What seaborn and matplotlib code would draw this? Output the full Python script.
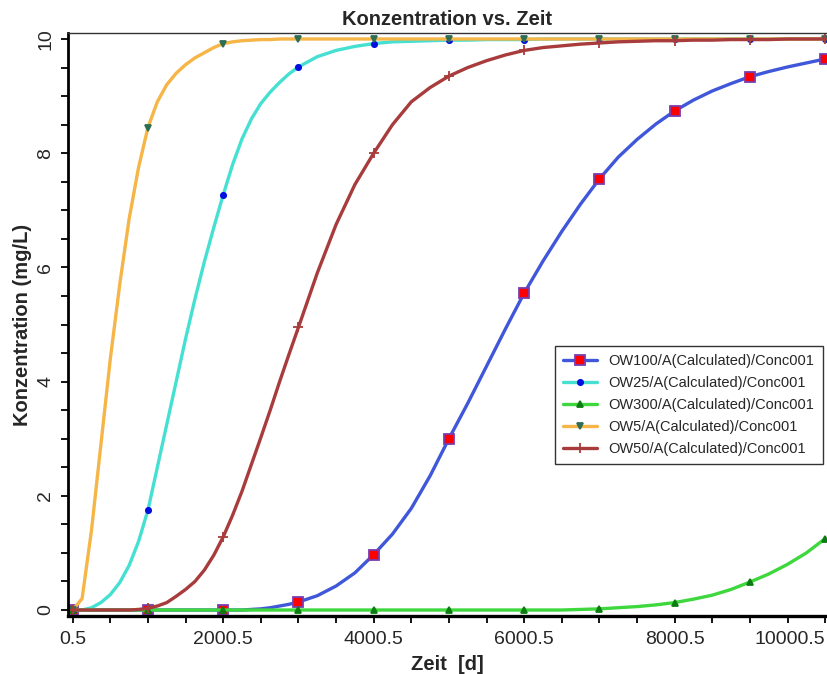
import numpy as np
import pandas as pd
import seaborn as sns
import matplotlib.pyplot as plt
from matplotlib.ticker import FixedLocator, MultipleLocator

# time grid [d]: 125 d steps up to 3000.5, 250 d steps afterwards
zeit = np.concatenate([np.arange(0.5, 3000.6, 125), np.arange(3250.5, 10000.6, 250)])

ow100 = [0, 0, 0, 0, 0, 0, 0, 0, 0, 0, 0, 0, 0, 0, 0, 0, 0, 0, 0,
         0.01, 0.02, 0.04, 0.07, 0.10, 0.14,
         0.25, 0.42, 0.65, 0.97, 1.33, 1.78, 2.35, 3.00, 3.62, 4.27, 4.92, 5.55,
         6.11, 6.63, 7.11, 7.55, 7.93, 8.24, 8.51, 8.74, 8.93, 9.09, 9.22, 9.34,
         9.43, 9.51, 9.58, 9.65]
ow25 = [0, 0.0, 0.04, 0.13, 0.27, 0.48, 0.78, 1.2, 1.75, 2.50, 3.25, 4.0, 4.75,
        5.45, 6.10, 6.70, 7.27, 7.80, 8.25, 8.60, 8.87, 9.07, 9.24, 9.39, 9.51,
        9.69, 9.80, 9.87, 9.92, 9.95, 9.96, 9.97, 9.98, 9.98, 9.99, 9.99, 9.99,
        10, 10, 10, 10, 10, 10, 10, 10, 10, 10, 10, 10, 10, 10, 10, 10]
ow300 = [0] * 38 + [0.0, 0.01, 0.02, 0.04, 0.06, 0.09, 0.13, 0.19, 0.26, 0.36,
                    0.49, 0.63, 0.80, 1.00, 1.25]
ow5 = [0, 0.2, 1.4, 2.9, 4.4, 5.7, 6.85, 7.75, 8.45, 8.90, 9.20, 9.40, 9.55,
       9.67, 9.76, 9.85, 9.92, 9.95, 9.97, 9.98, 9.99, 9.99, 10, 10, 10] + [10] * 28
ow50 = [0, 0, 0, 0, 0, 0, 0, 0.01, 0.03, 0.07, 0.13, 0.24, 0.36, 0.50, 0.70,
        0.96, 1.28, 1.66, 2.08, 2.55, 3.02, 3.50, 4.00, 4.48, 4.95,
        5.90, 6.75, 7.45, 8.00, 8.50, 8.90, 9.15, 9.35, 9.50, 9.62, 9.72, 9.80,
        9.85, 9.88, 9.91, 9.93, 9.95, 9.96, 9.97, 9.97, 9.98, 9.98, 9.99, 9.99,
        9.99, 10, 10, 10]

series = [
    ("OW100/A(Calculated)/Conc001", ow100, "#3f57d8", "s", "#ff0000", "#7a3db0", 6.5),
    ("OW25/A(Calculated)/Conc001", ow25, "#45e0d2", "o", "#0010e0", "#0010e0", 3.8),
    ("OW300/A(Calculated)/Conc001", ow300, "#3ed83e", "^", "#0b7d10", "#0b7d10", 5),
    ("OW5/A(Calculated)/Conc001", ow5, "#f5b547", "v", "#2e6e55", "#2e6e55", 5),
    ("OW50/A(Calculated)/Conc001", ow50, "#a83c3c", "+", "#a83c3c", "#a83c3c", 6.5),
]

sns.set_style("white")
plt.rcParams["font.family"] = ["Liberation Sans", "DejaVu Sans"]

fig = plt.figure(figsize=(8.27, 6.74), dpi=100)
ax = fig.add_axes([68 / 827, 1 - 616 / 674, (826 - 68) / 827, (616 - 33) / 674])

marks = [i for i, t in enumerate(zeit) if (t - 0.5) % 1000 == 0]
for name, vals, col, mk, mfc, mec, ms in series:
    df = pd.DataFrame({"Zeit": zeit, "Konz": vals})
    sns.lineplot(data=df, x="Zeit", y="Konz", ax=ax, color=col, linewidth=2.4,
                 marker=mk, markersize=ms, markerfacecolor=mfc, markeredgecolor=mec,
                 markeredgewidth=1.3, markevery=marks, errorbar=None, label=name)

ax.set_xlim(-62, 10012)
ax.set_ylim(-0.105, 10.105)
ax.xaxis.set_major_locator(FixedLocator([0.5, 2000.5, 4000.5, 6000.5, 8000.5, 10000.5]))
ax.xaxis.set_minor_locator(FixedLocator(np.arange(0.5, 10001, 500)))
ax.set_xticklabels(["0.5", "2000.5", "4000.5", "6000.5", "8000.5", "10000.5"])
ax.get_xticklabels()[-1].set_ha("right")
ax.yaxis.set_major_locator(MultipleLocator(2))
ax.yaxis.set_minor_locator(MultipleLocator(0.5))
ax.tick_params(axis="both", which="both", direction="out", length=5, width=1.3,
               color="black", labelsize=14, bottom=True, left=True)
ax.tick_params(axis="x", pad=6)
ax.tick_params(axis="y", pad=5)
for lab in ax.get_yticklabels():
    lab.set_rotation(90)
    lab.set_va("center")

ax.spines["left"].set_linewidth(2)
ax.spines["bottom"].set_linewidth(2.4)
ax.spines["top"].set_linewidth(1)
ax.spines["top"].set_color("#333333")
ax.spines["right"].set_visible(False)
for s in ["left", "bottom"]:
    ax.spines[s].set_color("black")

ax.set_title("Konzentration vs. Zeit", fontsize=14.5, fontweight="bold", pad=6)
ax.set_xlabel("Zeit  [d]", fontsize=14.5, fontweight="bold", labelpad=5)
ax.set_ylabel("Konzentration (mg/L)", fontsize=14.5, fontweight="bold", labelpad=4)

leg = ax.legend(loc="upper left", bbox_to_anchor=(0.643, 0.463), borderaxespad=0,
                fontsize=10.5, frameon=True, fancybox=False, handlelength=2.3,
                labelspacing=0.55, borderpad=0.55, handletextpad=0.8)
leg.get_frame().set_edgecolor("black")
leg.get_frame().set_linewidth(1)

fig.savefig("out.png", dpi=100)
plt.close(fig)
